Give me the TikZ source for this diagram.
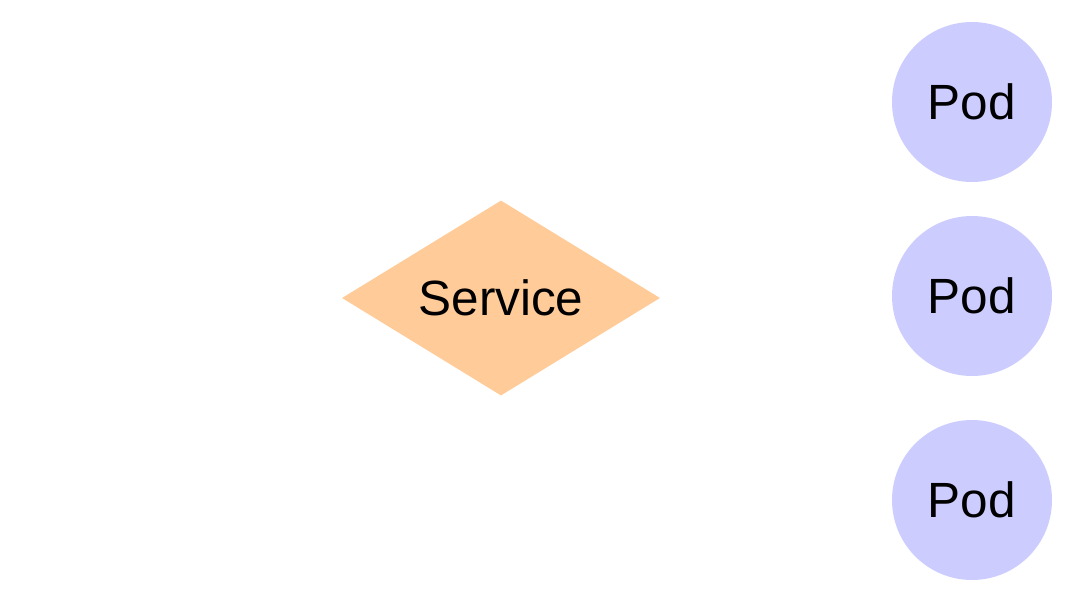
\documentclass[tikz,border=0pt]{standalone}
\usepackage{fontspec}
\setmainfont{Liberation Sans}
\usetikzlibrary{shapes.geometric}
\definecolor{svcfill}{HTML}{FFCC99}
\definecolor{podfill}{HTML}{CCCCFF}
\tikzset{
  svcbox/.style={diamond, aspect=1.63, fill=svcfill, draw=none, inner sep=0pt,
    minimum width=318pt, minimum height=195pt, font=\fontsize{49.5}{59}\selectfont},
  podbox/.style={circle, fill=podfill, draw=none, inner sep=0pt,
    minimum size=160pt, font=\fontsize{49.5}{59}\selectfont}
}
\begin{document}
\begin{tikzpicture}[x=1pt,y=-1pt]
\useasboundingbox (0,0) rectangle (1080,600);
\node[svcbox] (svc) at (501,298) {Service};
\node[podbox] (pod1) at (972,102) {Pod};
\node[podbox] (pod2) at (972,296) {Pod};
\node[podbox] (pod3) at (972,500) {Pod};
\end{tikzpicture}
\end{document}
